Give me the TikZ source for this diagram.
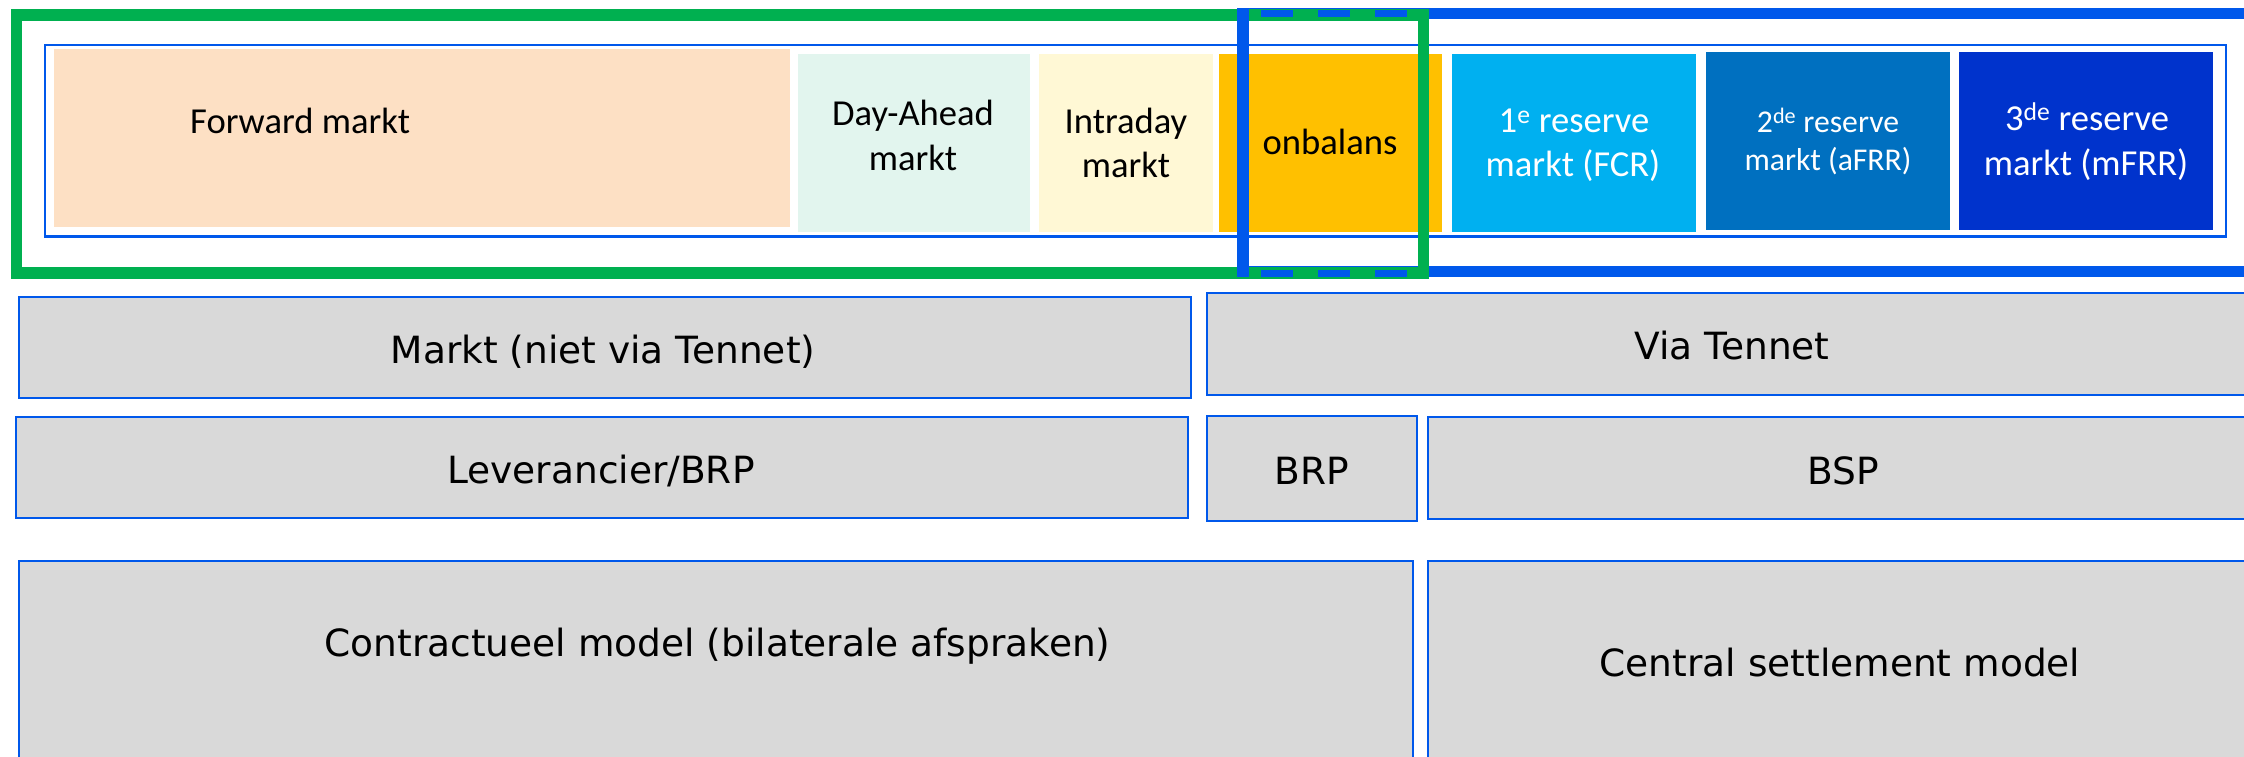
\documentclass[tikz,border=0pt]{standalone}
\usepackage{fontspec}
\newfontfamily\calibfont{Carlito}
\newfontfamily\verdfont{DejaVu Sans}
\definecolor{frameblue}{RGB}{0,88,235}
\definecolor{framegreen}{RGB}{0,176,80}
\definecolor{fwdpeach}{RGB}{253,224,196}
\definecolor{damint}{RGB}{226,245,238}
\definecolor{idyellow}{RGB}{255,248,213}
\definecolor{imbalorange}{RGB}{255,192,0}
\definecolor{fcrblue}{RGB}{0,176,240}
\definecolor{afrrblue}{RGB}{0,112,192}
\definecolor{mfrrblue}{RGB}{0,51,204}
\definecolor{cellgrey}{RGB}{217,217,217}

\begin{document}
\begin{tikzpicture}[x=1pt, y=-1pt,
  topfont/.style={font=\calibfont\fontsize{36.6}{44}\selectfont, anchor=base, inner sep=0pt},
  smallfont/.style={font=\calibfont\fontsize{31.7}{38}\selectfont, anchor=base, inner sep=0pt},
  lowfont/.style={font=\verdfont\fontsize{37.5}{45}\selectfont, anchor=base, inner sep=0pt},
  greybox/.style={draw=frameblue, fill=cellgrey, line width=2pt}]
	\useasboundingbox (0,0) rectangle (2244,756);
	\clip (0,0) rectangle (2244,756);
	\fill[white] (0,0) rectangle (2244,756);
	
	%%%%% MARKETS %%%%%
	
	\draw[frameblue, line width=2.5pt] (45,45) rectangle (2226,236.3);
	
	\fill[fwdpeach] (54,49) rectangle (790,227);
	\fill[damint] (798,54) rectangle (1030,232);
	\fill[idyellow] (1039,54) rectangle (1213,232);
	\fill[imbalorange] (1219,54) rectangle (1442,232);
	\fill[fcrblue] (1452,54) rectangle (1696,232);
	\fill[afrrblue] (1706,52) rectangle (1950,230);
	\fill[mfrrblue] (1959,52) rectangle (2213,230);
	
	\node[topfont, anchor=base west] (fwd) at (190,133) {Forward markt};
	\node[topfont] (da1) at (913,125) {Day-Ahead};
	\node[topfont] (da2) at (913,170) {markt};
	\node[topfont] (id1) at (1126,133.3) {Intraday};
	\node[topfont] (id2) at (1126,177.3) {markt};
	\node[topfont] (imb) at (1330,154) {onbalans};
	\node[topfont, white] (fcr1) at (1574,132.7) {1\textsuperscript{e} reserve};
	\node[topfont, white] (fcr2) at (1573,176.7) {markt (FCR)};
	\node[smallfont, white] (afrr1) at (1828,132.7) {2\textsuperscript{de} reserve};
	\node[smallfont, white] (afrr2) at (1828,170) {markt (aFRR)};
	\node[topfont, white] (mfrr1) at (2087,130) {3\textsuperscript{de} reserve};
	\node[topfont, white] (mfrr2) at (2086,175) {markt (mFRR)};
	
	% frames: blue behind green, blue dashes where they overlap
	\draw[frameblue, line width=11.3pt] (1243,13.7) rectangle (2270,271.5);
	\draw[framegreen, line width=11.7pt] (16.6,15.3) rectangle (1423.5,272.7);
	\draw[frameblue, line width=11.3pt] (1243,8) -- (1243,277.3);
	\draw[frameblue, line width=7pt, dash pattern=on 32pt off 25pt, dash phase=39pt] (1243,13.7) -- (1417.5,13.7);
	\draw[frameblue, line width=7pt, dash pattern=on 32pt off 25pt, dash phase=39pt] (1243,273.5) -- (1417.5,273.5);
	
	%%%%% ROLES %%%%%
	
	\draw[greybox] (18.5,296.7) rectangle (1190.6,398);
	\draw[greybox] (1207,293) rectangle (2258,395);
	\node[lowfont] (mkt) at (603,363) {Markt (niet via Tennet)};
	\node[lowfont] (via) at (1732,359) {Via Tennet};
	
	\draw[greybox] (15.7,417) rectangle (1188,518);
	\draw[greybox] (1207,416) rectangle (1417,521);
	\draw[greybox] (1428,417) rectangle (2258,519);
	\node[lowfont] (lev) at (601,483) {Leverancier/BRP};
	\node[lowfont] (brp) at (1312,484) {BRP};
	\node[lowfont] (bsp) at (1843,484) {BSP};
	
	\draw[greybox] (18.6,561) rectangle (1413,780);
	\draw[greybox] (1428,561) rectangle (2258,780);
	\node[lowfont] (ctr) at (717.5,656) {Contractueel model (bilaterale afspraken)};
	\node[lowfont] (csm) at (1840,676) {Central settlement model};
	
	%%%%% END %%%%%
\end{tikzpicture}
\end{document}
